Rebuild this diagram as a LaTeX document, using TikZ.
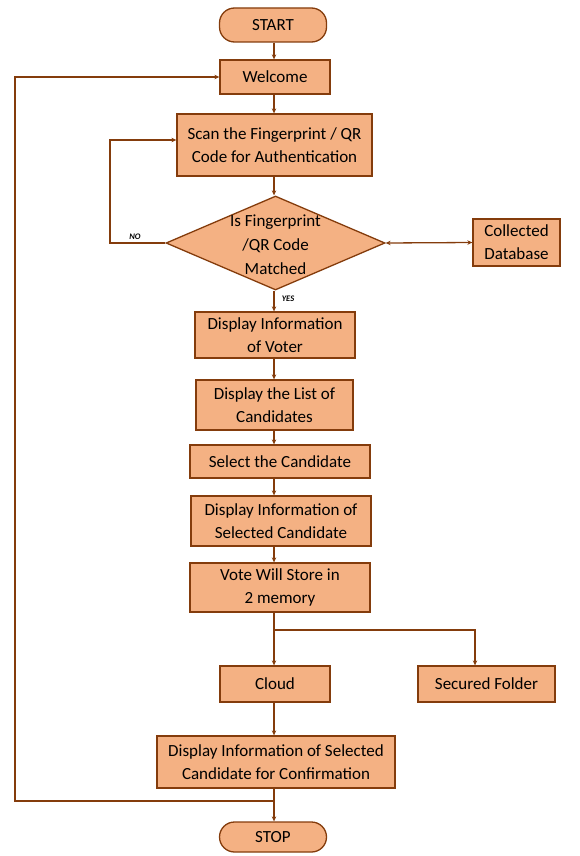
\documentclass[tikz,border=0pt]{standalone}
\usepackage{fontspec}
\setmainfont{Carlito}
\usetikzlibrary{shapes.geometric,arrows.meta}
\definecolor{boxfill}{HTML}{F4B183}
\definecolor{boxdraw}{HTML}{843C0C}
\begin{document}
\begin{tikzpicture}[x=1pt,y=-1pt,
  box/.style={draw=boxdraw, fill=boxfill, line width=1.3pt, align=center, inner sep=0pt,
    font=\fontsize{17}{23}\selectfont, text=black},
  term/.style={box, rounded corners=15pt},
  dia/.style={diamond, draw=boxdraw, fill=boxfill, line width=1.3pt, inner sep=0pt},
  txt/.style={align=center, inner sep=0pt, font=\fontsize{17}{24}\selectfont, text=black},
  lab/.style={inner sep=0pt, font=\bfseries\itshape\fontsize{8.5}{9}\selectfont, text=black},
  arr/.style={draw=boxdraw, line width=1.3pt, -{Stealth[length=5pt,width=4.5pt]}},
  arrb/.style={draw=boxdraw, line width=1.3pt, {Stealth[length=5pt,width=4.5pt]}-{Stealth[length=5pt,width=4.5pt]}},
  ln/.style={draw=boxdraw, line width=1.3pt}]
\useasboundingbox (0,0) rectangle (579,856);
\coordinate (col) at (274,0);
\coordinate (sfx) at (475,0);
\node[term, minimum width=107pt, minimum height=34pt] (start) at (273,25) {START};
\node[box, minimum width=110pt, minimum height=34pt] (welcome) at (275,77) {Welcome};
\node[box, minimum width=195pt, minimum height=62pt] (scan) at (274.5,145) {Scan the Fingerprint / QR\\Code for Authentication};
\node[dia, minimum width=219pt, minimum height=94pt] (dec) at (275.5,243) {};
\node[txt] (dectxt) at (275.5,245) {Is Fingerprint\\/QR Code\\Matched};
\node[box, minimum width=87pt, minimum height=47pt] (db) at (516.5,242.5) {Collected\\Database};
\node[box, minimum width=160pt, minimum height=46pt] (voter) at (275,335) {Display Information\\of Voter};
\node[box, minimum width=157pt, minimum height=50pt] (list) at (274.5,405) {Display the List of\\Candidates};
\node[box, minimum width=180pt, minimum height=33pt] (select) at (280,461.5) {Select the Candidate};
\node[box, minimum width=180pt, minimum height=50pt] (selinfo) at (281,521) {Display Information of\\Selected Candidate};
\node[box, minimum width=180pt, minimum height=49pt] (vote) at (280,587.5) {Vote Will Store in\\2 memory};
\node[box, minimum width=110pt, minimum height=36pt] (cloud) at (275,684) {Cloud};
\node[box, minimum width=137pt, minimum height=36pt] (secured) at (486.5,684) {Secured Folder};
\node[box, minimum width=238pt, minimum height=52pt] (confirm) at (276,762) {Display Information of Selected\\Candidate for Confirmation};
\node[term, minimum width=107pt, minimum height=30pt] (stop) at (273,837) {STOP};
\node[lab] (no) at (135,237) {NO};
\node[lab] (yes) at (288,299) {YES};
\coordinate (nc) at (110,243);
\coordinate (br) at (274,630);
\coordinate (lp) at (274,801);
\coordinate (lc) at (15,801);
% connectors
\draw[arr] (start.south -| col) -- (welcome.north -| col);
\draw[arr] (welcome.south -| col) -- (scan.north -| col);
\draw[arr] (scan.south -| col) -- (dec.north -| col);
\draw[arr] (dec.south -| col) -- (voter.north -| col);
\draw[arr] (voter.south -| col) -- (list.north -| col);
\draw[arr] (list.south -| col) -- (select.north -| col);
\draw[arr] (select.south -| col) -- (selinfo.north -| col);
\draw[arr] (selinfo.south -| col) -- (vote.north -| col);
\draw[arr] (vote.south -| col) -- (cloud.north -| col);
\draw[arr] (br) -| (secured.north -| sfx);
\draw[arr] (cloud.south -| col) -- (confirm.north -| col);
\draw[arr] (confirm.south -| col) -- (stop.north -| col);
\draw[arr] (lp) -- (lc) |- (welcome.west);
\draw[arr] (dec.west) -- (nc) |- ([yshift=5pt]scan.west);
\draw[arrb] (dec.east) -- (db.west);
\end{tikzpicture}
\end{document}
